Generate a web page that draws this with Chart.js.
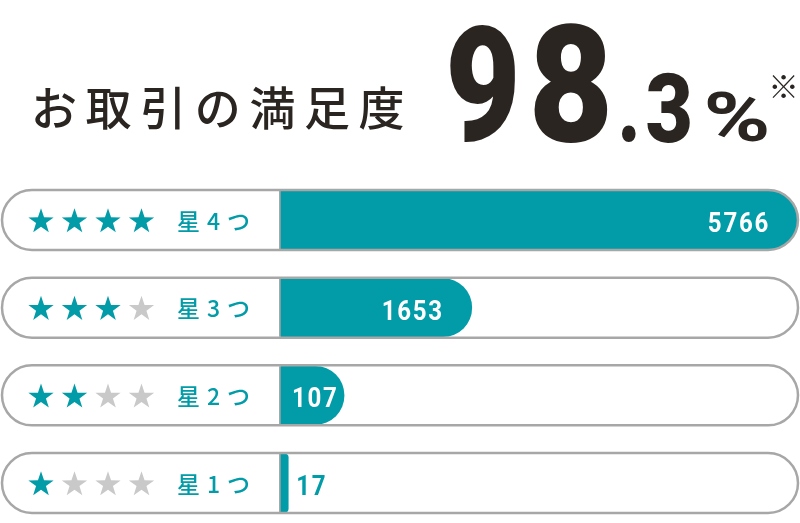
<!DOCTYPE html>
<html lang="ja">
<head>
<meta charset="utf-8">
<title>お取引の満足度</title>
<script src="https://cdn.jsdelivr.net/npm/chart.js@4.4.1/dist/chart.umd.min.js"></script>
<style>
  html, body { margin: 0; padding: 0; background: #fff; }
  #wrap { width: 800px; height: 523px; position: relative; }
</style>
</head>
<body>
<div id="wrap"><canvas id="satisfactionChart"></canvas></div>
<script>
// Data
const categories = ['星4つ', '星3つ', '星2つ', '星1つ'];
const starCounts = [4, 3, 2, 1];
const reviewCounts = [5766, 1653, 107, 17];
// bar length as drawn in the picture, % of the track (not proportional to counts)
const barLengths = [100, 36.9, 12.2, 1.4];
const titleText = 'お取引の満足度';
const rateParts = ['9', '8', '.', '3', '%', '※'];

const TEAL = '#019ca8';
const GREY_STAR = '#c9c9c9';
const BORDER = '#a7a7a7';
const INK = '#2a2521';
const SQUEEZE = 0.86;

function drawStar(ctx, cx, cy, R, r) {
  ctx.beginPath();
  for (let k = 0; k < 10; k++) {
    const a = -Math.PI / 2 + k * Math.PI / 5;
    const rad = k % 2 ? r : R;
    ctx.lineTo(cx + rad * Math.cos(a), cy + rad * Math.sin(a));
  }
  ctx.closePath();
  ctx.fill();
}

// squeeze a glyph into the box it occupies in the picture
function fitGlyph(ctx, ch, x0, x1, y0, y1, font) {
  ctx.save();
  ctx.font = font;
  ctx.textAlign = 'left';
  ctx.textBaseline = 'alphabetic';
  const m = ctx.measureText(ch);
  const w = m.actualBoundingBoxLeft + m.actualBoundingBoxRight;
  const h = m.actualBoundingBoxAscent + m.actualBoundingBoxDescent;
  const sx = (x1 - x0) / w, sy = (y1 - y0) / h;
  ctx.translate(x0 + m.actualBoundingBoxLeft * sx, y0 + m.actualBoundingBoxAscent * sy);
  ctx.scale(sx, sy);
  ctx.fillText(ch, 0, 0);
  ctx.restore();
}

// condensed-looking numbers for the value labels
function narrowText(ctx, text, x, y, align) {
  ctx.save();
  ctx.translate(x, y);
  ctx.scale(SQUEEZE, 1);
  ctx.textAlign = align;
  ctx.fillText(text, 0, 0);
  ctx.restore();
}

const decor = {
  id: 'decor',
  beforeDatasetsDraw(chart) {
    const { ctx, scales: { y } } = chart;
    ctx.save();
    ctx.strokeStyle = BORDER;
    ctx.lineWidth = 2;
    categories.forEach((c, i) => {
      const cy = y.getPixelForValue(i);
      ctx.beginPath();
      ctx.moveTo(280, cy - 29);
      ctx.lineTo(280, cy + 29);
      ctx.stroke();
    });
    ctx.restore();
  },
  afterDatasetsDraw(chart) {
    const { ctx, scales: { y } } = chart;
    const meta = chart.getDatasetMeta(0);
    ctx.save();

    categories.forEach((c, i) => {
      const cy = y.getPixelForValue(i);

      // pill outline
      ctx.strokeStyle = BORDER;
      ctx.lineWidth = 2.5;
      ctx.beginPath();
      ctx.roundRect(2, cy - 30, 796, 60, 30);
      ctx.stroke();

      // stars
      for (let s = 0; s < 4; s++) {
        ctx.fillStyle = s < starCounts[i] ? TEAL : GREY_STAR;
        drawStar(ctx, 41 + s * 33.5, cy + 1.5, 13.3, 5.2);
      }

      // category label
      ctx.fillStyle = TEAL;
      ctx.font = '500 23px "Noto Sans CJK JP"';
      ctx.textAlign = 'left';
      ctx.textBaseline = 'middle';
      ctx.letterSpacing = '7px';
      ctx.fillText(c, 177, cy + 1);
      ctx.letterSpacing = '0px';

      // value label
      const bar = meta.data[i];
      const text = String(reviewCounts[i]);
      ctx.font = 'bold 28px Roboto';
      ctx.letterSpacing = '2px';
      const tw = ctx.measureText(text).width * SQUEEZE;
      const width = bar.x - bar.base;
      ctx.textBaseline = 'alphabetic';
      if (width > tw + 60) {
        ctx.fillStyle = '#fff';
        narrowText(ctx, text, bar.x - 28, cy + 12, 'right');
      } else if (width > tw + 10) {
        ctx.fillStyle = '#fff';
        narrowText(ctx, text, bar.base + 11, cy + 12, 'left');
      } else {
        ctx.fillStyle = TEAL;
        narrowText(ctx, text, bar.x + 8, cy + 12, 'left');
      }
      ctx.letterSpacing = '0px';
    });

    // headline
    ctx.fillStyle = INK;
    ctx.font = '500 46px "Noto Sans CJK JP"';
    ctx.textAlign = 'left';
    ctx.textBaseline = 'middle';
    [...titleText].forEach((ch, k) => ctx.fillText(ch, 31 + k * 54.6, 108));

    const big = '900 160px Roboto';
    fitGlyph(ctx, rateParts[0], 450, 515, 25, 142, big);
    fitGlyph(ctx, rateParts[1], 534, 608, 24, 143, big);
    fitGlyph(ctx, rateParts[2], 622, 636, 125, 142, big);
    fitGlyph(ctx, rateParts[3], 647, 690, 72, 143, big);
    fitGlyph(ctx, rateParts[4], 707, 767, 92, 142, 'bold 80px Roboto');
    fitGlyph(ctx, rateParts[5], 772, 795, 75, 98, '24px "Noto Sans CJK JP"');

    ctx.restore();
  }
};

const ctx = document.getElementById('satisfactionChart').getContext('2d');
new Chart(ctx, {
  type: 'bar',
  data: {
    labels: categories,
    datasets: [{
      data: barLengths,
      backgroundColor: TEAL,
      barThickness: 58,
      borderRadius: 29,
      borderSkipped: 'start',
      clip: false
    }]
  },
  options: {
    indexAxis: 'y',
    responsive: true,
    maintainAspectRatio: false,
    animation: false,
    layout: { padding: { left: 281, right: 2, top: 220, bottom: 40 } },
    scales: {
      x: { type: 'linear', min: 0, max: 100, display: false },
      y: { type: 'category', offset: false, display: false }
    },
    plugins: {
      legend: { display: false },
      tooltip: { enabled: false }
    }
  },
  plugins: [decor]
});
</script>
</body>
</html>
